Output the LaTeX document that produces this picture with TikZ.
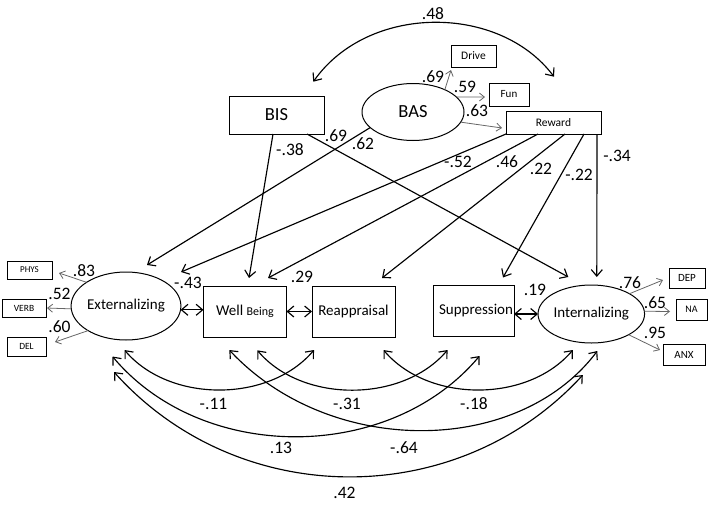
\documentclass[tikz,border=0pt]{standalone}
\usepackage{fontspec}
\setmainfont{Carlito}
\usetikzlibrary{arrows.meta,shapes.geometric,calc}
\newcommand{\fsz}[1]{\fontsize{#1}{#1}\selectfont}
\begin{document}
\begin{tikzpicture}[x=1pt,y=-1pt,
  every node/.style={inner sep=0pt,outer sep=0pt},
  rbox/.style={draw,rectangle,line width=1pt,font=\fsz{15}},
  sbox/.style={draw,rectangle,line width=0.9pt},
  lat/.style={draw,ellipse,line width=1pt,font=\fsz{15}},
  pth/.style={line width=1.15pt,-{Straight Barb[length=6.5pt,width=11pt]}},
  corr/.style={line width=1.15pt,{Straight Barb[length=6.5pt,width=11pt]}-{Straight Barb[length=6.5pt,width=11pt]}},
  load/.style={black!60,line width=0.8pt,-{Straight Barb[length=5pt,width=8pt]}},
  lab/.style={font=\fsz{17.5}}]
\useasboundingbox (0,0) rectangle (709,509);
% nodes
\node[rbox,minimum width=95pt,minimum height=38pt,font=\fsz{18.5}] (bis) at (276.5,115) {BIS};
\node[lat,minimum width=102pt,minimum height=57pt,font=\fsz{18.5}] (bas) at (413,112) {BAS};
\node[sbox,minimum width=45pt,minimum height=22pt,font=\fsz{11.5}] (drive) at (473.5,56) {Drive};
\node[sbox,minimum width=40pt,minimum height=23pt,font=\fsz{11}] (fun) at (509,94.5) {Fun};
\node[sbox,minimum width=95pt,minimum height=23pt,font=\fsz{11.5}] (reward) at (553.5,122.5) {Reward};
\node[lat,minimum width=109pt,minimum height=68pt] (ext) at (126,306) {\raisebox{-4pt}{Externalizing}};
\node[rbox,minimum width=83pt,minimum height=51pt] (wb) at (245,311.5) {Well {\fsz{12}Being}};
\node[rbox,minimum width=83pt,minimum height=51pt] (reapp) at (353.5,311.5) {Reappraisal};
\node[rbox,minimum width=81pt,minimum height=51pt] (supp) at (473.5,311) {\hspace{5pt}Suppression};
\node[lat,minimum width=103pt,minimum height=58pt] (int) at (591.3,314) {\raisebox{2pt}{Internalizing}};
\node[sbox,minimum width=36pt,minimum height=20pt,font=\fsz{11}] (dep) at (687,278) {DEP};
\node[sbox,minimum width=31pt,minimum height=21pt,font=\fsz{10}] (na) at (691.5,309.5) {NA};
\node[sbox,minimum width=42pt,minimum height=21pt,font=\fsz{11}] (anx) at (684,354.5) {ANX};
\node[sbox,minimum width=45pt,minimum height=18pt,font=\fsz{9}] (phys) at (29.5,270) {PHYS};
\node[sbox,minimum width=44pt,minimum height=18pt,font=\fsz{9.5}] (verb) at (24,308) {VERB};
\node[sbox,minimum width=39pt,minimum height=19pt,font=\fsz{9.5}] (del) at (26.5,346.5) {DEL};
% structural paths
\draw[pth] ($(bis.south)+(-3.5,0)$) -- ($(wb.north)+(4,-8)$);
\draw[pth] ($(bis.south east)+(-17,0)$) -- ($(int.north)+(-23,-8)$);
\draw[pth] (bas.200) -- ($(ext.north)+(21,-7)$);
\draw[pth] (reward.south west) -- ($(ext.north)+(55,0)$);
\draw[pth] ($(reward.south west)+(32,0)$) -- ($(wb.north)+(23,-8)$);
\draw[pth] ($(reward.south west)+(59,0)$) -- ($(reapp.north)+(28.5,-8)$);
\draw[pth] ($(reward.south west)+(78,0)$) -- ($(supp.north)+(29.5,-8)$);
\draw[pth] ($(reward.south east)+(-4,0)$) -- ($(int.north)+(5.5,-8)$);
% loadings
\draw[load] (bas.35) -- ($(drive.south west)+(0,3)$);
\draw[load] (bas.19) -- ($(fun.west)+(-4,2.5)$);
\draw[load] (bas.-12) -- ($(reward.west)+(-4,5.5)$);
\draw[load] (ext.149) -- ($(phys.east)+(7,3)$);
\draw[load] (ext.183) -- ($(verb.east)+(1,0)$);
\draw[load] (ext.213) -- ($(del.east)+(9,-4.5)$);
\draw[load] (int.28.5) -- ($(dep.west)+(-6,2)$);
\draw[load] (int.3) -- ($(na.west)+(-6,2)$);
\draw[load] (int.-29.5) -- ($(anx.west)+(-3,-4.5)$);
% adjacent correlations
\draw[corr] (ext.-4) -- (ext.-4 -| wb.west);
\draw[corr] (wb.east) -- (reapp.west);
\draw[corr] (int.west) -- (int.west -| supp.east);
% curve end points
\coordinate (bt) at ($(bis.north)+(36.8,-14.3)$);
\coordinate (rt) at ($(reward.north)+(0.5,-34.3)$);
\coordinate (e1) at ($(ext.south)+(-1.5,10)$);
\coordinate (e2) at ($(ext.south)+(-13.5,16.5)$);
\coordinate (e3) at ($(ext.south)+(-12,32)$);
\coordinate (w1) at ($(wb.south)+(12.3,13.3)$);
\coordinate (w2) at ($(wb.south)+(-15.7,13)$);
\coordinate (r1) at ($(reapp.south)+(-39.5,13)$);
\coordinate (r2) at ($(reapp.south)+(30,13)$);
\coordinate (s1) at ($(supp.south)+(-26,13.5)$);
\coordinate (s2) at ($(supp.south)+(6,19.5)$);
\coordinate (i1) at ($(int.south)+(-18.5,7)$);
\coordinate (i2) at ($(int.south)+(6,8)$);
\coordinate (i3) at ($(int.south)+(-8.5,32)$);
% curved correlations
\draw[corr] (bt) .. controls +(55,-78) and +(-55,-73) .. (rt);
\draw[corr] (e1) .. controls +(45,53) and +(-45,53) .. (r1);
\draw[corr] (w1) .. controls +(45,53) and +(-45,53) .. (s1);
\draw[corr] (r2) .. controls +(45,53) and +(-45,53) .. (i1);
\draw[corr] (e2) .. controls +(90,107) and +(-90,107) .. (s2);
\draw[corr] (w2) .. controls +(100,107) and +(-80,106) .. (i2);
\draw[corr] (e3) .. controls +(125,139) and +(-125,136) .. (i3);
% labels
\node[lab] (l48) at (433,14) {.48};
\node[lab] (l69a) at (433,77) {.69};
\node[lab] (l59) at (465,87) {.59};
\node[lab] (l63) at (477,111) {.63};
\node[lab] (l38) at (290,150) {-.38};
\node[lab] (l69b) at (336,136) {.69};
\node[lab] (l62) at (363,144) {.62};
\node[lab] (l52a) at (458,162) {-.52};
\node[lab] (l46) at (507,162) {.46};
\node[lab] (l22a) at (541,169) {.22};
\node[lab] (l22b) at (579,175) {-.22};
\node[lab] (l34) at (617,156) {-.34};
\node[lab] (l83) at (84,271) {.83};
\node[lab] (l52b) at (59.5,293.5) {.52};
\node[lab] (l60) at (59.5,327) {.60};
\node[lab] (l43) at (188,283) {-.43};
\node[lab] (l29) at (302,277) {.29};
\node[lab] (l19) at (535,290) {.19};
\node[lab] (l76) at (630,283) {.76};
\node[lab] (l65) at (655,303) {.65};
\node[lab] (l95) at (655,333) {.95};
\node[lab] (l11) at (213.5,403.5) {-.11};
\node[lab] (l31) at (347,403.5) {-.31};
\node[lab] (l18) at (474,403.5) {-.18};
\node[lab] (l13) at (281,447.5) {.13};
\node[lab] (l64) at (404,448) {-.64};
\node[lab] (l42) at (344.5,493) {.42};
\end{tikzpicture}
\end{document}
